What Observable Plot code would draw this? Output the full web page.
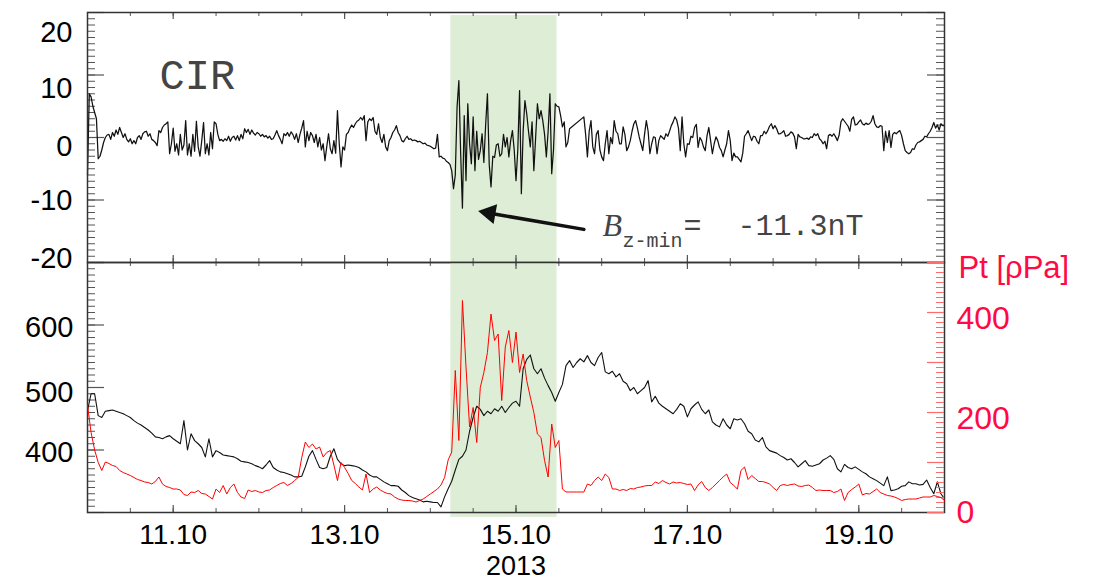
<!DOCTYPE html>
<html><head><meta charset="utf-8">
<script src="https://cdn.jsdelivr.net/npm/d3@7"></script>
<script src="https://cdn.jsdelivr.net/npm/@observablehq/plot@0.6"></script>
<style>
html,body{margin:0;padding:0;background:#fff;}
#chart{position:relative;width:1096px;height:582px;overflow:hidden;background:#fff;}
#chart svg{position:absolute;left:0;top:0;}
</style></head><body><div id="chart"></div>
<script>
// ---------- DATA ----------
const startTime = "2013-10-10T00:00Z";
const endTime = "2013-10-20T00:00Z";
const bzStepMinutes = 30;   // IMF Bz [nT], 30-min samples (null = data gap)
const bz = [
 -6,7,6.5,5,4,3,-3.4,-3,-2,-0.8,0,0.4,0.5,-0.3,0.8,0.2,1.2,0.5,1.6,0.8,0,0.6,-0.3,-0.7,
 -0.2,-1,-0.5,-1,0,0.3,-0.3,0.6,0.9,1,0.2,0.6,-0.3,-0.5,-0.8,-1.3,1.1,0.8,1.6,2,2.2,2.5,-2.6,-1,
 1.5,-2.2,-1,-2.8,0.5,-2,-1.2,2.7,-2.8,-1,-3,0.5,-2.2,2.6,-1.5,-3,-0.5,2.4,-2.6,-1,-2.8,0.8,-1.8,2.5,
 2.2,0.5,-0.5,-0.3,-0.6,-0.2,-0.5,0.2,-0.6,0,0.2,-0.4,0.3,-0.5,0.5,-0.2,1.4,0.8,1.3,0.5,1.2,0.7,0.4,0.8,
 0.6,0.2,0.5,0.1,0.3,-0.1,0.2,-0.3,-0.2,0.4,1.1,0.3,-0.3,-1,0.6,0.3,0.8,0.2,0.9,0.5,-0.3,0.6,-0.8,0.5,
 1.5,2.7,-1.5,1,-0.5,0.8,0.3,-0.8,0.5,-1.5,0,-2,-1,-3.7,-1.5,0.6,-1.8,-2.6,-0.5,-2.5,4.3,-1,-4.7,-1.5,
 -2,0.5,0.8,1.5,2,1.6,2.2,2.6,2.8,3.2,2.8,3.5,-0.5,2.5,3,2.7,3.2,1,0.5,2.2,0,-0.8,0.5,-1.5,
 -2.1,-0.5,0,0.8,1.2,1.9,0.8,0.3,-0.5,-0.7,-0.2,0.2,-0.3,-0.2,-0.5,-0.4,-0.5,-0.7,-0.6,-0.8,-1,-0.9,-1.2,-1.3,
 -1.4,-1.6,-1.8,-1.7,0.5,-3.1,-3,-3.3,-3.4,-3.8,-4,-4.3,-5.3,-8.2,-6,4.9,9.1,-2.5,-11.3,3.5,-6.9,5.4,-1,-4.2,
 3.3,-5.3,1,-3.5,-2.1,0.6,-4,2,7,-4.3,-7.9,-3,-3.2,-1.2,-1,-3,-2.6,0.5,-1.5,0,-3.1,-0.5,1.1,-2,
 -6.9,-2,7.5,-9,1,5.9,3.8,1,-1.5,2.5,-5.3,0,5.4,3,4.3,2.7,0.5,-3.1,1,7,-5.8,-2,5.4,5,
 4.9,3.5,1.7,2.5,-1.5,-0.8,1.4,null,null,null,null,null,null,null,3.3,0.5,-3.1,1,2.7,-1.5,-2.6,0.5,1.1,-2,
 -3.1,-3.7,-1,1.1,-2.6,0,-1,2.7,1,0.6,-1,-1,1.7,0.5,-2.1,-1.5,-0.5,1,2.2,2.7,1.5,0.1,-1,-2.1,
 0.5,2.7,1,-2.6,-1,0.1,0,-2.6,-0.5,0.3,0,-0.3,0.6,0.2,1,1.9,2.5,3.3,2.8,1.5,-2.1,3.3,-1,-3.1,
 -1,-1.1,0.2,0,1.6,2.1,-1.6,0,-0.5,-1.5,-2.1,0.3,1.6,-0.5,-2.6,-1,0.1,-0.5,-1.6,-2.1,-3.1,-2,-1,1.1,
 -0.5,-3.7,-2.5,-3.1,-3.1,-3.5,-3.9,-2.5,0.2,0.6,1.1,0.3,-0.5,0.2,0.1,-0.6,-1,0.3,0.3,1,0.6,1.1,1.8,2.2,
 1.4,1.9,1.4,0.6,0.6,0.8,1.1,0.2,0.3,0.5,0.9,0.7,0.1,-1.8,0.5,0.1,0,-0.2,-0.2,-0.1,-0.3,0.1,0,0.6,
 0.3,0.6,-0.2,-0.5,-1,-0.6,-1.8,0.3,0.5,0.2,0.6,0.1,-0.5,0.4,2.5,3,2.6,2.2,1.8,1,2.9,3.3,2,2.1,
 2.5,2.8,2.2,2,2.3,2.1,2.2,2.6,3.5,2.2,1.7,1.6,1.9,1.8,-2.1,1,-0.8,1.1,-1.6,0.5,0.8,0.6,0.9,1.1,
 0.3,-1,-2.1,-2.4,-2.6,-2.4,-1.8,-1.9,-1.2,-0.8,-0.7,-0.5,-0.3,0.2,0.1,0.6,1,1.6,2.4,1.5,2,1.2,2.2,1.9,
 1.9
];
const swStepMinutes = 60;   // hourly samples
const speed = [  // solar wind speed [km/s]
 463,490,490,455,452,462,463,464,462,460,458,455,452,447,443,440,436,432,427,421,420,418,421,423,
 418,414,410,447,400,426,415,410,404,389,418,389,399,396,392,391,390,389,386,382,381,380,378,375,
 373,370,376,383,372,368,365,364,362,360,357,357,358,373,390,399,385,372,370,372,390,402,385,378,
 375,376,375,374,372,368,365,360,357,357,353,349,346,343,343,342,336,332,327,324,322,320,317,318,
 317,316,316,309,325,338,350,368,385,390,400,430,452,470,465,455,462,458,466,462,470,460,468,475,
 478,470,530,545,552,530,522,530,515,503,492,478,492,505,535,543,532,540,546,541,551,540,535,548,
 556,525,522,526,517,522,510,506,495,500,490,495,500,511,477,486,475,470,466,462,458,465,474,470,
 453,466,472,477,465,458,464,445,440,437,450,440,434,450,448,450,442,430,426,416,413,420,405,399,
 397,395,391,388,384,386,380,373,378,383,375,374,376,378,384,387,391,385,370,365,377,372,370,373,
 369,365,362,357,354,351,347,343,357,335,336,338,342,343,349,346,346,344,345,352,340,330,349,330,
 322
];
const pt = [  // total pressure Pt [pPa]
 215,160,125,100,84,101,98,94,92,84,80,77,74,70,66,64,61,60,57,62,71,57,52,50,
 47,47,45,36,34,41,40,44,38,37,32,27,47,40,54,37,50,57,40,31,28,45,42,44,
 41,40,44,45,50,54,58,60,54,58,64,70,110,141,130,137,127,131,111,120,124,95,64,100,
 90,78,64,58,51,45,77,40,47,51,45,41,38,37,31,27,25,24,24,23,21,24,27,32,
 37,42,47,55,70,105,121,284,144,424,291,171,210,140,250,280,320,397,344,357,224,331,364,300,
 361,280,317,264,231,200,157,150,104,71,177,130,144,47,41,41,41,41,41,41,57,54,64,71,
 64,77,70,47,47,44,46,44,48,47,50,51,53,54,54,61,58,64,60,57,61,59,60,58,
 56,57,44,55,62,50,44,50,57,64,71,77,60,54,47,84,91,66,74,68,62,62,60,57,
 50,44,54,56,54,56,57,53,52,54,55,50,44,45,44,44,44,40,42,47,24,40,46,51,
 57,35,38,37,42,47,40,37,34,33,31,28,24,26,27,27,27,29,31,31,31,34,32,30,
 24
];
const cirStart = "2013-10-14T05:45Z";
const cirEnd = "2013-10-15T11:30Z";
const xTickLabels = ["11.10","13.10","15.10","17.10","19.10"];
const yearLabel = "2013";
const bzTicks = [-20,-10,0,10,20];
const speedTicks = [400,500,600];
const ptTicks = [0,200,400];
const cirLabel = "CIR";
const bzMinText = "=  -11.3nT";
const arrowFrom = {t: "2013-10-15T19:00Z", v: -14.7};
const arrowTo = {t: "2013-10-14T13:25Z", v: -11.8};

// ---------- LAYOUT / STYLE ----------
const W = 1096, H = 582, mL = 87, mR = 152;
const frameW = W - mL - mR, frameH = 250;
const green = "#deedd5", ink = "#111", tickCol = "#555", red = "#ff0000", redLab = "#ff0a45", redTick = "#ff6b6b";
const font = "Liberation Sans, Arial, Helvetica, sans-serif";
const mono = "Liberation Mono, Courier New, monospace";

const t0 = new Date(startTime);
const xDomain = [new Date(startTime), new Date(endTime)];
const series = (arr, step) => arr.map((v, i) => ({t: new Date(+t0 + i * step * 60000), v})).filter(d => d.v != null);
const halfDays = d3.utcHour.every(12).range(xDomain[0], d3.utcHour.offset(xDomain[1], 1));
const xTickDates = xTickLabels.map(s => { const [d, m] = s.split(".").map(Number); return new Date(Date.UTC(+yearLabel, m - 1, d)); });
const cir = [{start: new Date(cirStart), end: new Date(cirEnd)}];

function xTicks(pos, stroke) {
  const k = pos === "top" ? "insetBottom" : "insetTop";
  return [
    Plot.tickX(halfDays, {x: d => d, stroke, strokeWidth: 1, [k]: frameH - 4}),
    Plot.tickX(xTickDates, {x: d => d, stroke, strokeWidth: 1.2, [k]: frameH - 7})
  ];
}
function yTicks(minor, major, side, stroke) {
  const k = side === "left" ? "insetRight" : "insetLeft";
  return [
    Plot.tickY(minor, {y: d => d, stroke, strokeWidth: 1, [k]: frameW - 8}),
    Plot.tickY(major, {y: d => d, stroke, strokeWidth: 1.2, [k]: frameW - 17})
  ];
}
const baseStyle = {background: "transparent", fontFamily: font, overflow: "visible"};
const mid = {lineAnchor: "middle"};

// ---------- TOP PANEL: Bz ----------
const bzNudge = {"-20": -4, "-10": 0.5, "0": 9, "10": 13.5, "20": 20};
const panelBz = Plot.plot({
  width: W, height: H, marginLeft: mL, marginRight: mR, marginTop: 12, marginBottom: H - 12 - frameH,
  style: baseStyle,
  x: {type: "utc", domain: xDomain, axis: null},
  y: {domain: [-20, 20], axis: null},
  marks: [
    Plot.rect(cir, {x1: "start", x2: "end", fill: green, insetTop: 3}),
    ...yTicks(d3.range(-20, 21, 1), d3.range(-20, 21, 10), "left", tickCol),
    ...yTicks(d3.range(-20, 21, 1), d3.range(-20, 21, 10), "right", tickCol),
    ...xTicks("top", tickCol),
    ...xTicks("bottom", tickCol),
    Plot.line(series(bz, bzStepMinutes), {x: "t", y: "v", stroke: ink, strokeWidth: 1.25}),
    Plot.frame({stroke: "#333", strokeWidth: 1.5}),
    ...bzTicks.map(t => Plot.text([t], {...mid, y: d => d, text: d => String(d), frameAnchor: "left", textAnchor: "end", dx: -15, dy: bzNudge[t], fontSize: 29, fill: "#000"})),
    Plot.text([cirLabel], {...mid, text: d => d, frameAnchor: "top-left", textAnchor: "start", dx: 72, dy: 63, fontSize: 42, fontFamily: mono, fill: "#444"}),
    Plot.arrow([{a: arrowFrom, b: arrowTo}], {x1: d => new Date(d.a.t), y1: d => d.a.v, x2: d => new Date(d.b.t), y2: d => d.b.v, stroke: ink, strokeWidth: 3.5, headLength: 0, insetEnd: 12}),
    Plot.dot([arrowTo], {x: d => new Date(d.t), y: "v", symbol: "triangle", r: 7.5, fill: ink, stroke: "none", rotate: -80, dx: 11.4, dy: 1.9}),
    Plot.text(["B"], {...mid, text: d => d, frameAnchor: "top-left", textAnchor: "start", dx: 515, dy: 213, fontSize: 32, fontStyle: "italic", fontFamily: "Liberation Serif, Times New Roman, serif", fill: "#444"}),
    Plot.text(["z-min"], {...mid, text: d => d, frameAnchor: "top-left", textAnchor: "start", dx: 535, dy: 228, fontSize: 20, fontFamily: mono, fill: "#444"}),
    Plot.text([bzMinText], {...mid, text: d => d, frameAnchor: "top-left", textAnchor: "start", dx: 596, dy: 213, fontSize: 30, fontFamily: mono, fill: "#444"})
  ]
});

// ---------- BOTTOM PANEL: speed (black, left axis) ----------
const vNudge = {"400": 3, "500": 5.5, "600": 3};
const panelV = Plot.plot({
  width: W, height: H, marginLeft: mL, marginRight: mR, marginTop: 262, marginBottom: H - 262 - frameH,
  style: baseStyle,
  x: {type: "utc", domain: xDomain, axis: null},
  y: {domain: [300, 700], axis: null},
  marks: [
    Plot.rect(cir, {x1: "start", x2: "end", fill: green, insetBottom: -5}),
    ...yTicks(d3.range(300, 701, 10), d3.range(300, 701, 100), "left", tickCol),
    ...xTicks("top", tickCol),
    ...xTicks("bottom", tickCol),
    Plot.line(series(speed, swStepMinutes), {x: "t", y: "v", stroke: ink, strokeWidth: 1.1}),
    Plot.frame({stroke: "#333", strokeWidth: 1.5}),
    ...speedTicks.map(t => Plot.text([t], {...mid, y: d => d, text: d => String(d), frameAnchor: "left", textAnchor: "end", dx: -14, dy: vNudge[t], fontSize: 29, fill: "#000"})),
    Plot.text(xTickDates, {...mid, x: d => d, text: (d, i) => xTickLabels[i], frameAnchor: "bottom", dy: 23, fontSize: 28, fill: "#000"}),
    Plot.text([xTickDates[2]], {...mid, x: d => d, text: () => yearLabel, frameAnchor: "bottom", dy: 54, fontSize: 27, fill: "#000"})
  ]
});

// ---------- BOTTOM PANEL: Pt (red, right axis) ----------
const pNudge = {"0": 0, "200": 6, "400": 6};
const panelPt = Plot.plot({
  width: W, height: H, marginLeft: mL, marginRight: mR, marginTop: 262, marginBottom: H - 262 - frameH,
  style: baseStyle,
  x: {type: "utc", domain: xDomain, axis: null},
  y: {domain: [0, 500], axis: null},
  marks: [
    ...yTicks(d3.range(0, 501, 10), d3.range(0, 501, 100), "right", redTick),
    Plot.line(series(pt, swStepMinutes), {x: "t", y: "v", stroke: red, strokeWidth: 1}),
    ...ptTicks.map(t => Plot.text([t], {...mid, y: d => d, text: d => String(d), frameAnchor: "right", textAnchor: "start", dx: 12, dy: pNudge[t], fontSize: 32, fill: redLab})),
    Plot.text(["Pt [ρPa]"], {...mid, text: d => d, frameAnchor: "top-right", textAnchor: "start", dx: 14, dy: 6, fontSize: 31, fill: redLab})
  ]
});

document.getElementById("chart").append(panelBz, panelV, panelPt);
</script>
</body></html>
